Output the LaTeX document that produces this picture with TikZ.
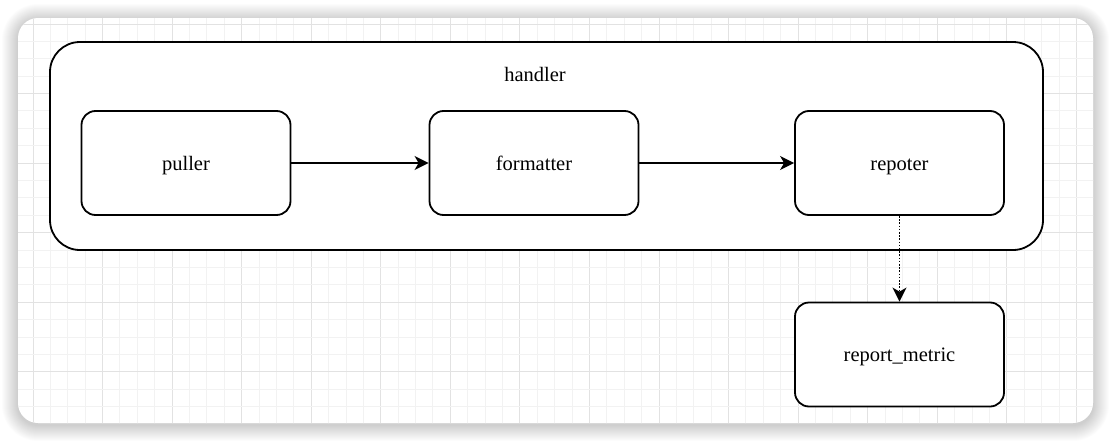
\documentclass[tikz,border=0pt]{standalone}
\usepackage{fontspec}
\setmainfont{Liberation Serif}
\usetikzlibrary{arrows.meta}
\definecolor{gridminor}{HTML}{F2F2F2}
\definecolor{gridmajor}{HTML}{E2E2E2}
\tikzset{
  box/.style={draw=black, line width=1.8pt, rounded corners=14pt, fill=white,
    minimum width=209pt, minimum height=104pt, inner sep=0pt,
    font=\fontsize{20.5}{24}\selectfont, text height=19pt, text depth=4.5pt},
  flow/.style={line width=1.7pt, -{Stealth[length=14pt,width=14pt,inset=4pt]}},
  dflow/.style={flow, dash pattern=on 1.6pt off 1.6pt},
}
\begin{document}
\begin{tikzpicture}[x=1pt,y=-1pt]
\useasboundingbox (0,0) rectangle (1112,442);
\fill[white] (0,0) rectangle (1112,442);
% soft card shadow
\foreach \k in {16,15,...,1} {
  \pgfmathsetmacro{\rr}{20+\k}
  \fill[black, opacity=0.012, rounded corners=\rr pt] (18-\k,18-\k+2) rectangle (1093+\k,423+\k+2);
}
% card
\fill[white, rounded corners=20pt] (18,18) rectangle (1093,423);
\begin{scope}
  \clip[rounded corners=20pt] (18,18) rectangle (1093,423);
  \foreach \i in {-1,...,62} {
    \pgfmathsetmacro{\xx}{33+\i*17.39}
    \pgfmathtruncatemacro{\mm}{mod(\i+64,4)}
    \ifnum\mm=0
      \draw[gridmajor, line width=1pt] (\xx,0) -- (\xx,442);
    \else
      \draw[gridminor, line width=1pt] (\xx,0) -- (\xx,442);
    \fi
  }
  \foreach \j in {-1,...,24} {
    \pgfmathsetmacro{\yy}{24+\j*17.39}
    \pgfmathtruncatemacro{\mm}{mod(\j+64,4)}
    \ifnum\mm=0
      \draw[gridmajor, line width=1pt] (0,\yy) -- (1112,\yy);
    \else
      \draw[gridminor, line width=1pt] (0,\yy) -- (1112,\yy);
    \fi
  }
\end{scope}
% handler container
\node[draw=black, line width=1.8pt, rounded corners=30pt, fill=white,
  minimum width=993pt, minimum height=208pt, inner sep=0pt] (handler) at (546.5,146) {};
\node[anchor=base, font=\fontsize{20.5}{24}\selectfont, inner sep=0pt] (handlerlbl) at (535,81) {handler};
% boxes
\node[box] (puller) at (186,163) {puller};
\node[box] (formatter) at (534,163) {formatter};
\node[box] (repoter) at (899.5,163) {repoter};
\node[box] (metric) at (899.5,354.5) {report\_metric};
% connectors
\draw[flow] (puller) -- (formatter);
\draw[flow] (formatter) -- (repoter);
\draw[dflow] (repoter) -- (metric);
\end{tikzpicture}
\end{document}
